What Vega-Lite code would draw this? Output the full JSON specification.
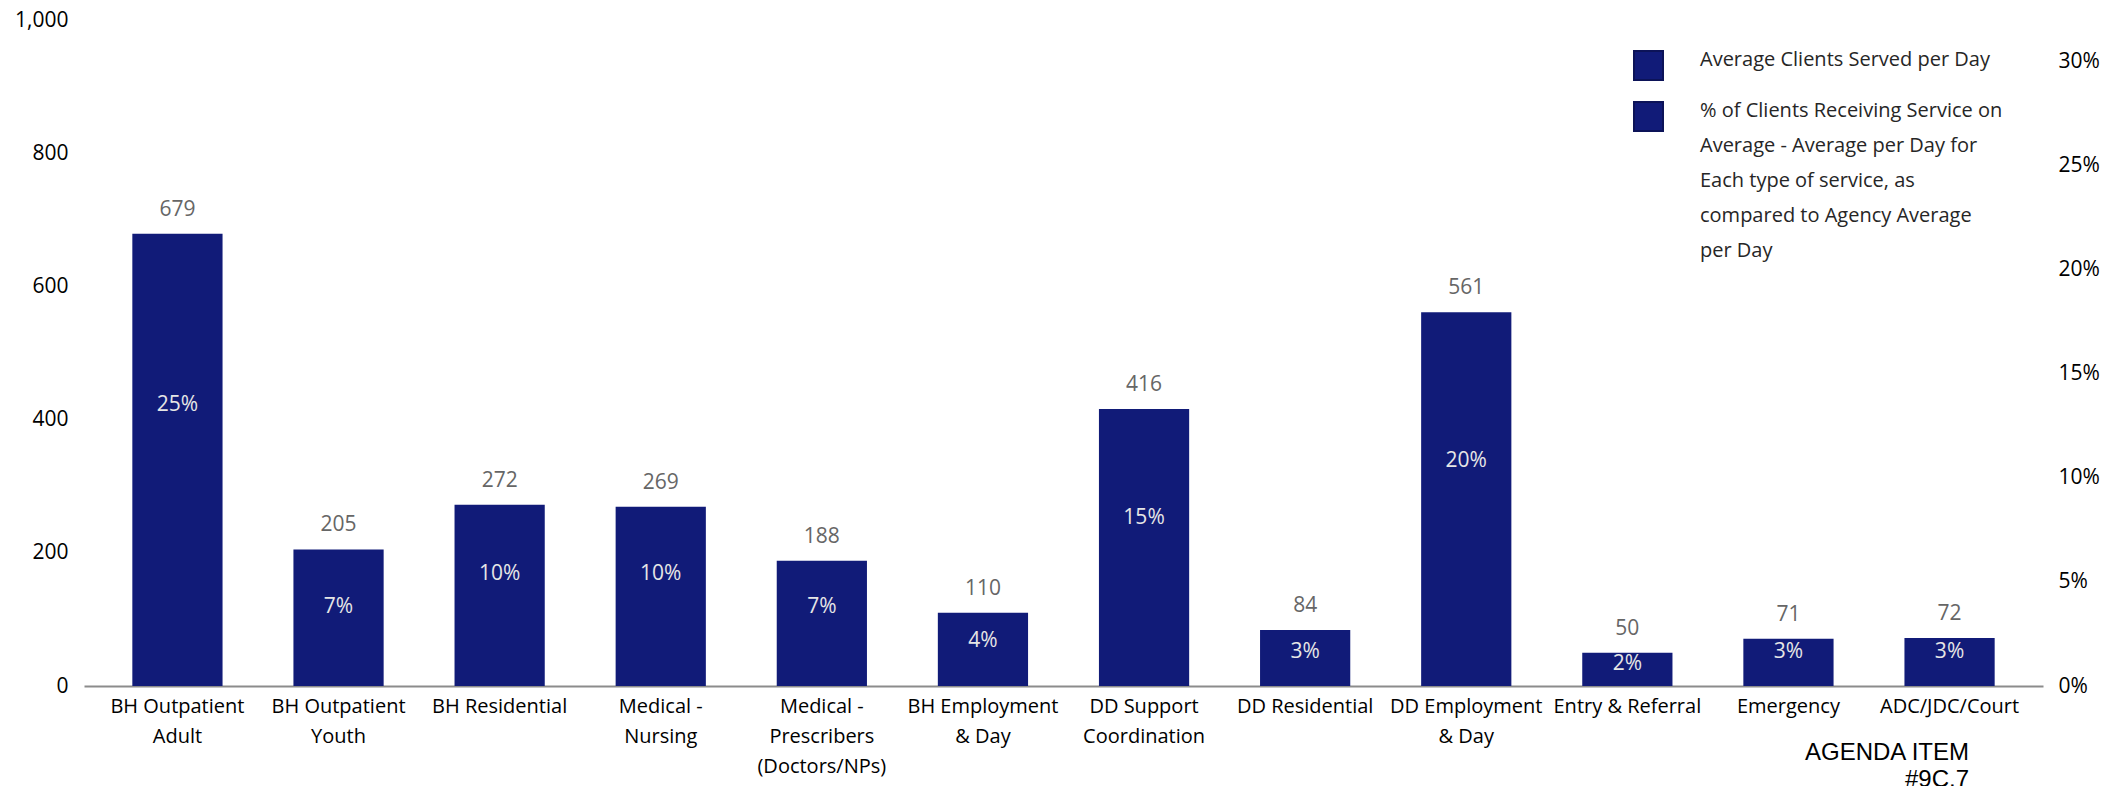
{
  "$schema": "https://vega.github.io/schema/vega-lite/v6.json",
  "width": 1959,
  "height": 666,
  "autosize": {"type": "none"},
  "padding": {"left": 84, "top": 20, "right": 79, "bottom": 100},
  "background": "white",
  "config": {
    "view": {"stroke": null},
    "font": "Open Sans",
    "style": {"guide-label": {"lineHeight": 35}}
  },
  "title": {
    "text": ["AGENDA ITEM", "#9C.7"],
    "orient": "bottom",
    "anchor": "end",
    "frame": "group",
    "font": "Liberation Sans",
    "fontSize": 24,
    "fontWeight": "normal",
    "color": "#000000",
    "lineHeight": 27,
    "offset": -35,
    "dx": -74
  },
  "data": {
    "values": [
      {"service": "BH Outpatient Adult", "clients": 679, "pct": 0.25},
      {"service": "BH Outpatient Youth", "clients": 205, "pct": 0.07},
      {"service": "BH Residential", "clients": 272, "pct": 0.10},
      {"service": "Medical - Nursing", "clients": 269, "pct": 0.10},
      {"service": "Medical - Prescribers (Doctors/NPs)", "clients": 188, "pct": 0.07},
      {"service": "BH Employment & Day", "clients": 110, "pct": 0.04},
      {"service": "DD Support Coordination", "clients": 416, "pct": 0.15},
      {"service": "DD Residential", "clients": 84, "pct": 0.03},
      {"service": "DD Employment & Day", "clients": 561, "pct": 0.20},
      {"service": "Entry & Referral", "clients": 50, "pct": 0.02},
      {"service": "Emergency", "clients": 71, "pct": 0.03},
      {"service": "ADC/JDC/Court", "clients": 72, "pct": 0.03}
    ]
  },
  "encoding": {
    "x": {
      "field": "service",
      "type": "nominal",
      "sort": null,
      "scale": {"paddingInner": 0.44, "paddingOuter": 0.3},
      "axis": {
        "title": null,
        "labelAngle": 0,
        "labelFontSize": 20,
        "labelColor": "#000000",
        "labelPadding": 10,
        "labelLineHeight": 30,
        "labelBaseline": "top",
        "labelLimit": 300,
        "ticks": false,
        "domain": true,
        "domainColor": "#8c8c8c",
        "domainWidth": 2,
        "labelExpr": "datum.label == 'BH Outpatient Adult' ? ['BH Outpatient', 'Adult'] : datum.label == 'BH Outpatient Youth' ? ['BH Outpatient', 'Youth'] : datum.label == 'Medical - Nursing' ? ['Medical -', 'Nursing'] : datum.label == 'Medical - Prescribers (Doctors/NPs)' ? ['Medical -', 'Prescribers', '(Doctors/NPs)'] : datum.label == 'BH Employment & Day' ? ['BH Employment', '& Day'] : datum.label == 'DD Support Coordination' ? ['DD Support', 'Coordination'] : datum.label == 'DD Employment & Day' ? ['DD Employment', '& Day'] : datum.label"
      }
    }
  },
  "layer": [
    {
      "mark": {"type": "bar"},
      "encoding": {
        "y": {
          "field": "clients",
          "type": "quantitative",
          "scale": {"domain": [0, 1000], "nice": false},
          "axis": {
            "orient": "left",
            "title": null,
            "values": [0, 200, 400, 600, 800, 1000],
            "format": ",d",
            "grid": false,
            "domain": false,
            "ticks": false,
            "labelFontSize": 21,
            "labelColor": "#000000",
            "labelPadding": 16
          }
        },
        "color": {
          "datum": "Average Clients Served per Day",
          "scale": {
            "domain": [
              "Average Clients Served per Day",
              "% of Clients Receiving Service on Average - Average per Day for Each type of service, as compared to Agency Average per Day"
            ],
            "range": ["#111B78", "#111B78"]
          },
          "legend": {
            "title": null,
            "orient": "none",
            "legendX": 1549,
            "legendY": 30,
            "symbolType": "square",
            "symbolSize": 841,
            "symbolStrokeColor": "#0c1358",
            "symbolStrokeWidth": 2,
            "symbolOpacity": 1,
            "labelFontSize": 20,
            "labelColor": "#262626",
            "labelLimit": 400,
            "labelOffset": 36,
            "labelBaseline": "alphabetic",
            "rowPadding": 14,
            "labelExpr": "datum.label == 'Average Clients Served per Day' ? datum.label : ['% of Clients Receiving Service on', 'Average - Average per Day for', 'Each type of service, as', 'compared to Agency Average', 'per Day']"
          }
        }
      }
    },
    {
      "mark": {"type": "text", "baseline": "alphabetic", "dy": -18, "fontSize": 21, "color": "#666666"},
      "encoding": {
        "y": {"field": "clients", "type": "quantitative", "scale": {"domain": [0, 1000], "nice": false}, "axis": null},
        "text": {"field": "clients", "type": "quantitative"}
      }
    },
    {
      "mark": {"type": "bar", "opacity": 0},
      "encoding": {
        "y": {
          "field": "pct",
          "type": "quantitative",
          "scale": {"domain": [0, 0.32], "nice": false},
          "axis": {
            "orient": "right",
            "title": null,
            "values": [0, 0.05, 0.1, 0.15, 0.2, 0.25, 0.3],
            "format": ".0%",
            "grid": false,
            "domain": false,
            "ticks": false,
            "labelFontSize": 21,
            "labelColor": "#000000",
            "labelPadding": 15
          }
        }
      }
    },
    {
      "mark": {"type": "text", "baseline": "middle", "fontSize": 21, "color": "#e6e6e6"},
      "encoding": {
        "y": {"field": "pct", "type": "quantitative", "scale": {"domain": [0, 0.593], "nice": false}, "axis": null},
        "text": {"field": "pct", "type": "quantitative", "format": ".0%"}
      }
    }
  ],
  "resolve": {"scale": {"y": "independent"}}
}
